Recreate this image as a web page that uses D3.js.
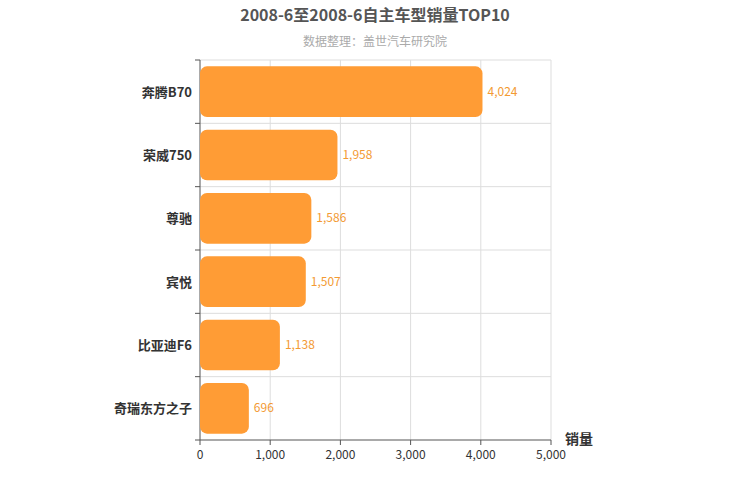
<!DOCTYPE html>
<html><head><meta charset="utf-8">
<script src="https://cdn.jsdelivr.net/npm/d3@7"></script>
<style>body{margin:0;background:#fff}text{font-family:"Noto Sans CJK SC","Noto Sans",sans-serif}</style>
</head><body><svg id="c" width="750" height="500"></svg>
<script>
const categories=["奔腾B70","荣威750","尊驰","宾悦","比亚迪F6","奇瑞东方之子"];
const values=[4024,1958,1586,1507,1138,696];
const xTicks=[0,1000,2000,3000,4000,5000];
const svg=d3.select("#c");
const L=200,R=551,T=60,B=440;
const x=d3.scaleLinear().domain([0,5000]).range([L,R]);
const y=d3.scaleBand().domain(categories).range([T,B]).paddingInner(0.2).paddingOuter(0.1);
const step=(B-T)/categories.length;
svg.append("text").attr("x",375).attr("y",21).attr("text-anchor","middle").attr("font-size",16).attr("font-weight","bold").attr("fill","#555").text("2008-6至2008-6自主车型销量TOP10");
svg.append("text").attr("x",375).attr("y",46).attr("text-anchor","middle").attr("font-size",12).attr("fill","#aaa").text("数据整理：盖世汽车研究院");
const g=svg.append("g");
xTicks.forEach(t=>{if(t>0)g.append("line").attr("x1",x(t)).attr("x2",x(t)).attr("y1",T).attr("y2",B).attr("stroke","#ddd");});
for(let i=0;i<=categories.length;i++){const yy=T+i*step;
 if(i<categories.length)g.append("line").attr("x1",L).attr("x2",R).attr("y1",yy).attr("y2",yy).attr("stroke","#ddd");
 g.append("line").attr("x1",L-5).attr("x2",L).attr("y1",yy).attr("y2",yy).attr("stroke","#555");}
g.append("line").attr("x1",L).attr("x2",L).attr("y1",T).attr("y2",B).attr("stroke","#555");
g.append("line").attr("x1",L).attr("x2",R).attr("y1",B).attr("y2",B).attr("stroke","#555");
xTicks.forEach(t=>{g.append("line").attr("x1",x(t)).attr("x2",x(t)).attr("y1",B).attr("y2",B+5).attr("stroke","#555");
 g.append("text").attr("x",x(t)).attr("y",B+19).attr("text-anchor","middle").attr("font-size",12).attr("fill","#333").text(d3.format(",")(t));});
categories.forEach((c,i)=>{
 g.append("rect").attr("x",x(0)).attr("y",y(c)).attr("width",x(values[i])-x(0)).attr("height",y.bandwidth()).attr("rx",7).attr("fill","#ff9c35");
 g.append("text").attr("x",x(values[i])+5).attr("y",y(c)+y.bandwidth()/2+4).attr("font-size",12).attr("fill","#f39a33").text(d3.format(",")(values[i]));
 g.append("text").attr("x",L-8).attr("y",y(c)+y.bandwidth()/2+5).attr("text-anchor","end").attr("font-size",13).attr("font-weight","bold").attr("fill","#333").text(c);
});
svg.append("text").attr("x",565).attr("y",444).attr("font-size",14).attr("font-weight","bold").attr("fill","#333").text("销量");
</script></body></html>
